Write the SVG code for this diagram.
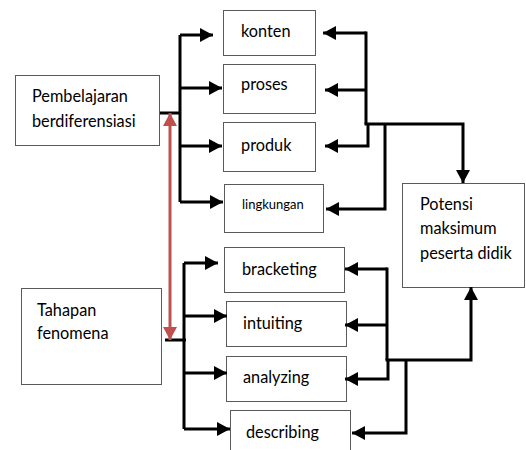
<svg xmlns="http://www.w3.org/2000/svg" width="526" height="450" viewBox="0 0 526 450">
<style>
.box{fill:#fff;stroke:#5a5a5a;stroke-width:1}
.t{font-family:Lato,"Open Sans",sans-serif;font-size:16.3px;fill:#000}
.s{font-size:13px}
.c{fill:none;stroke:#000;stroke-width:3}
.r{fill:none;stroke:#C0504D;stroke-width:3}
</style>
<defs>
<marker id="a" markerUnits="userSpaceOnUse" markerWidth="14" markerHeight="14" refX="13" refY="7" orient="auto">
<path d="M0,0 L13,7 L0,14 Z" fill="#000"/>
</marker>
<marker id="ar" markerUnits="userSpaceOnUse" markerWidth="14" markerHeight="14" refX="13" refY="7" orient="auto-start-reverse">
<path d="M0,0 L13,7 L0,14 Z" fill="#C0504D"/>
</marker>
</defs>
<rect width="526" height="450" fill="#fff"/>
<g id="n-pembelajaran"><rect class="box" x="15.5" y="75.5" width="144" height="70"/><text class="t" x="32" y="102">Pembelajaran</text><text class="t" x="32" y="127">berdiferensiasi</text></g>
<g id="n-konten"><rect class="box" x="223.5" y="10.5" width="92" height="45"/><text class="t" x="241" y="37">konten</text></g>
<g id="n-proses"><rect class="box" x="223.5" y="64.5" width="92" height="49"/><text class="t" x="241" y="90">proses</text></g>
<g id="n-produk"><rect class="box" x="223.5" y="122.5" width="92" height="49"/><text class="t" x="241" y="151">produk</text></g>
<g id="n-lingkungan"><rect class="box" x="224.5" y="184.5" width="99" height="48"/><text class="t s" x="242" y="209">lingkungan</text></g>
<g id="n-potensi"><rect class="box" x="402.5" y="183.5" width="122" height="104"/><text class="t" x="420" y="210">Potensi</text><text class="t" x="420" y="234">maksimum</text><text class="t" x="420" y="259">peserta didik</text></g>
<g id="n-tahapan"><rect class="box" x="21.5" y="288.5" width="140" height="96"/><text class="t" x="37" y="316">Tahapan</text><text class="t" x="37" y="339">fenomena</text></g>
<g id="n-bracketing"><rect class="box" x="224.5" y="247.5" width="120" height="45"/><text class="t" x="242" y="275">bracketing</text></g>
<g id="n-intuiting"><rect class="box" x="226.5" y="301.5" width="120" height="45"/><text class="t" x="243" y="329">intuiting</text></g>
<g id="n-analyzing"><rect class="box" x="226.5" y="356.5" width="120" height="45"/><text class="t" x="243" y="383">analyzing</text></g>
<g id="n-describing"><rect class="box" x="230.5" y="410.5" width="120" height="45"/><text class="t" x="246" y="438">describing</text></g>
<g id="connectors">
<path class="c" d="M160,113 H181 M180,35 V202"/>
<path class="c" d="M180,35 H213" marker-end="url(#a)"/>
<path class="c" d="M180,88 H222" marker-end="url(#a)"/>
<path class="c" d="M180,146 H222" marker-end="url(#a)"/>
<path class="c" d="M180,202 H223" marker-end="url(#a)"/>
<path class="c" d="M366,33 H323" marker-end="url(#a)"/>
<path class="c" d="M366,90 H325" marker-end="url(#a)"/>
<path class="c" d="M366,31.5 V124"/>
<path class="c" d="M368,124 V146 H325" marker-end="url(#a)"/>
<path class="c" d="M364.5,124 H463 V183" marker-end="url(#a)"/>
<path class="c" d="M385,124 V209 H326" marker-end="url(#a)"/>
<path class="c" d="M165,340 H186 M184,263 V429"/>
<path class="c" d="M184,263 H218" marker-end="url(#a)"/>
<path class="c" d="M184,316 H227" marker-end="url(#a)"/>
<path class="c" d="M184,373 H227" marker-end="url(#a)"/>
<path class="c" d="M184,429 H230" marker-end="url(#a)"/>
<path class="c" d="M387,269 H345" marker-end="url(#a)"/>
<path class="c" d="M387,325 H345" marker-end="url(#a)"/>
<path class="c" d="M387,267.5 V360"/>
<path class="c" d="M388,360 V379 H345" marker-end="url(#a)"/>
<path class="c" d="M385.5,360 H471 V287" marker-end="url(#a)"/>
<path class="c" d="M406,360 V433 H352" marker-end="url(#a)"/>
<path class="r" d="M170,113 V340" marker-start="url(#ar)" marker-end="url(#ar)"/>
</g>
</svg>
